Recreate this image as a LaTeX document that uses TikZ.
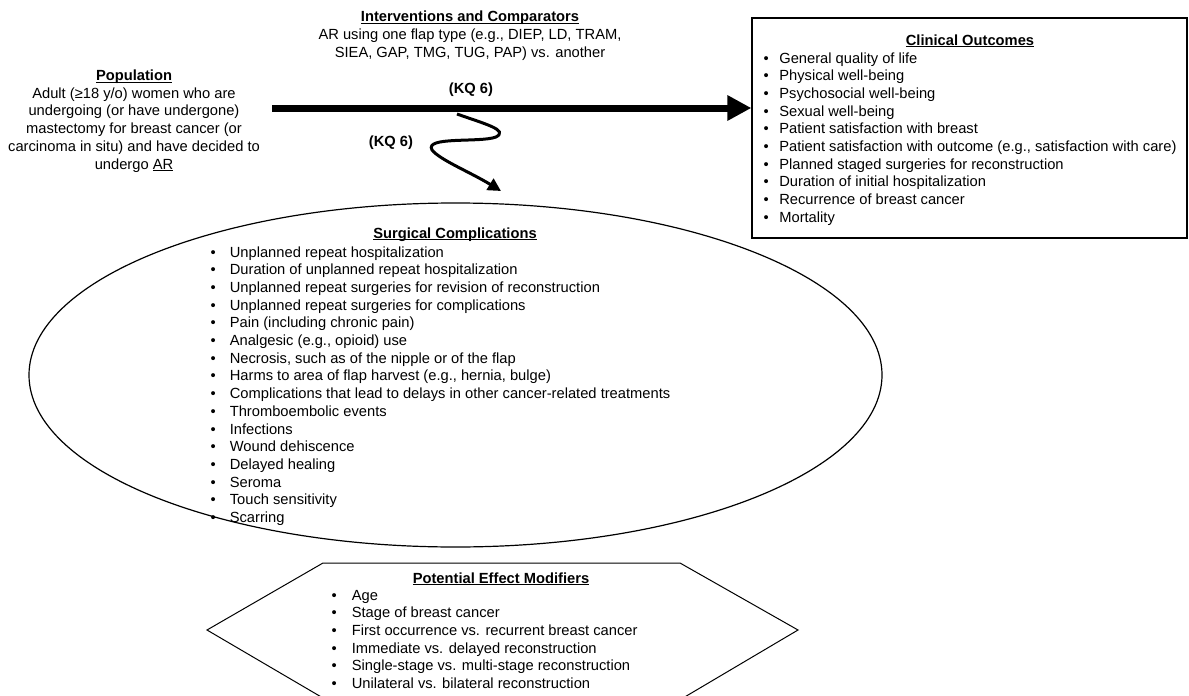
\documentclass[tikz,border=0pt]{standalone}
\usepackage{fontspec}
\setmainfont{Liberation Sans}
\usetikzlibrary{shapes.geometric,arrows.meta}
\newcommand{\myul}[1]{\setbox0\hbox{#1}\rlap{\rule[-2.2pt]{\wd0}{0.9pt}}\box0}
\newcommand{\ttl}[1]{\textbf{\myul{#1}}}
\newcommand{\blist}[2]{\begin{tabular}[t]{@{}l@{\hspace{#1}}l@{}}#2\end{tabular}}
\begin{document}
\begin{tikzpicture}[x=1pt,y=-1pt,
  txt/.style={inner sep=0pt, font=\fontsize{14.7}{17.7}\selectfont},
  frame/.style={draw=black, line width=1.2pt},
  bigarrow/.style={line width=7pt, -{Triangle[length=24pt,width=24pt]}},
  wavyarrow/.style={line width=3pt, -{Triangle[length=13pt,width=13pt]}}]
\useasboundingbox (0,0) rectangle (1189,696);

% Population (anchor on last line's baseline)
\node[txt, anchor=base, align=center] (pop) at (134,169)
  {\ttl{Population}\\Adult (≥18 y/o) women who are\\undergoing (or have undergone)\\mastectomy for breast cancer (or\\carcinoma in situ) and have decided to\\undergo \myul{AR}};

% Interventions (anchor on last line's baseline)
\node[txt, anchor=base, align=center] (int) at (470,57)
  {\ttl{Interventions and Comparators}\\AR using one flap type (e.g., DIEP, LD, TRAM,\\SIEA, GAP, TMG, TUG, PAP) vs. another};

% Clinical outcomes box
\node[frame, minimum width=435pt, minimum height=220pt, inner sep=0pt] (clin) at (969.5,128) {};
\node[txt, anchor=base] (clint) at (970,45) {\ttl{Clinical Outcomes}};
\node[txt, anchor=base west] (clinl) at (763.5,63) {\blist{10.5pt}{%
\textbullet & General quality of life\\
\textbullet & Physical well-being\\
\textbullet & Psychosocial well-being\\
\textbullet & Sexual well-being\\
\textbullet & Patient satisfaction with breast\\
\textbullet & Patient satisfaction with outcome (e.g., satisfaction with care)\\
\textbullet & Planned staged surgeries for reconstruction\\
\textbullet & Duration of initial hospitalization\\
\textbullet & Recurrence of breast cancer\\
\textbullet & Mortality}};

% Main arrow
\coordinate (a0) at (272,108);
\draw[bigarrow] (a0) -- (a0 -| clin.west);
\node[txt, anchor=center] (kq1) at (471,90) {\bfseries (KQ 6)};

% Wavy arrow
\coordinate (s0) at (457,114);
\coordinate (s1) at (501,191);
\draw[wavyarrow] (s0) .. controls (485,124) and (509,130) .. (496,137)
  .. controls (480,143) and (424,136) .. (432,150)
  .. controls (440,160) and (470,172) .. (s1);
\node[txt, anchor=center] (kq2) at (391,143) {\bfseries (KQ 6)};

% Surgical complications ellipse
\node[draw=black, line width=1.2pt, ellipse, minimum width=853pt, minimum height=344pt, inner sep=0pt] (surg) at (455.5,375) {};
\node[txt, anchor=base] (surgt) at (455,238) {\ttl{Surgical Complications}};
\node[txt, anchor=base west] (surgl) at (210.5,257) {\blist{14pt}{%
\textbullet & Unplanned repeat hospitalization\\
\textbullet & Duration of unplanned repeat hospitalization\\
\textbullet & Unplanned repeat surgeries for revision of reconstruction\\
\textbullet & Unplanned repeat surgeries for complications\\
\textbullet & Pain (including chronic pain)\\
\textbullet & Analgesic (e.g., opioid) use\\
\textbullet & Necrosis, such as of the nipple or of the flap\\
\textbullet & Harms to area of flap harvest (e.g., hernia, bulge)\\
\textbullet & Complications that lead to delays in other cancer-related treatments\\
\textbullet & Thromboembolic events\\
\textbullet & Infections\\
\textbullet & Wound dehiscence\\
\textbullet & Delayed healing\\
\textbullet & Seroma\\
\textbullet & Touch sensitivity\\
\textbullet & Scarring}};

% Potential effect modifiers hexagon
\coordinate (h1) at (323,698);
\coordinate (h2) at (207,630);
\coordinate (h3) at (323,563);
\coordinate (h4) at (680,563);
\coordinate (h5) at (798,630);
\coordinate (h6) at (683,698);
\draw[line width=1pt] (h1) -- (h2) -- (h3) -- (h4) -- (h5) -- (h6) -- cycle;
\node[txt, anchor=base] (modt) at (501,583) {\ttl{Potential Effect Modifiers}};
\node[txt, anchor=base west] (modl) at (331.5,600) {\blist{15pt}{%
\textbullet & Age\\
\textbullet & Stage of breast cancer\\
\textbullet & First occurrence vs. recurrent breast cancer\\
\textbullet & Immediate vs. delayed reconstruction\\
\textbullet & Single-stage vs. multi-stage reconstruction\\
\textbullet & Unilateral vs. bilateral reconstruction}};
\end{tikzpicture}
\end{document}
